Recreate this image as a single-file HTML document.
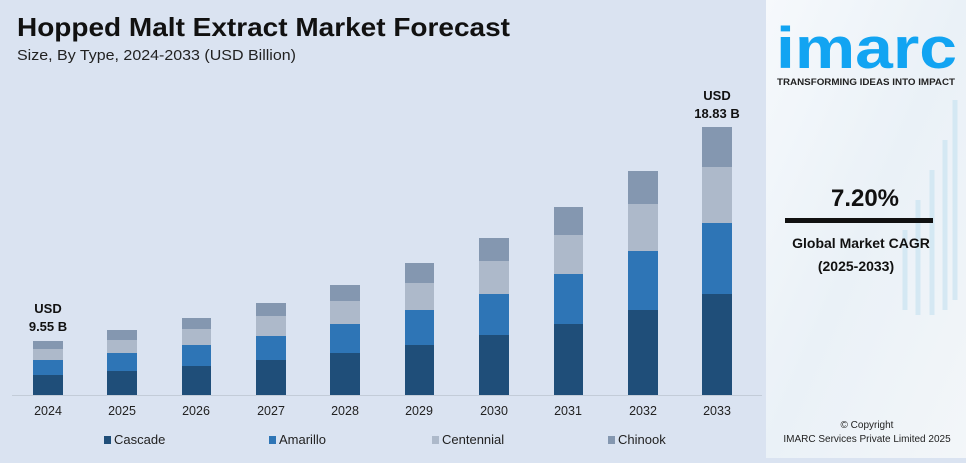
<!DOCTYPE html>
<html><head><meta charset="utf-8"><style>
html,body{margin:0;padding:0;}
body{width:966px;height:458px;overflow:hidden;background:#dae3f1;font-family:"Liberation Sans",sans-serif;}
</style></head><body>
<svg width="966" height="458" viewBox="0 0 966 458" xmlns="http://www.w3.org/2000/svg" font-family="Liberation Sans, sans-serif">
<defs>
<linearGradient id="rp" x1="0" y1="0" x2="1" y2="1">
<stop offset="0" stop-color="#f6f9fc"/><stop offset="0.5" stop-color="#eaf1f7"/><stop offset="1" stop-color="#f3f6f9"/>
</linearGradient>
</defs>
<rect x="0" y="0" width="766" height="458" fill="#dae3f1"/>
<rect x="766" y="0" width="200" height="458" fill="url(#rp)"/>
<g stroke="#cfe6f3" stroke-width="5" opacity="0.8">
<line x1="955" y1="100" x2="955" y2="300"/><line x1="945" y1="140" x2="945" y2="310"/>
<line x1="932" y1="170" x2="932" y2="315"/><line x1="918" y1="200" x2="918" y2="315"/>
<line x1="905" y1="230" x2="905" y2="310"/>
</g>
<text x="17" y="36" font-size="26" font-weight="bold" fill="#111" textLength="493" lengthAdjust="spacingAndGlyphs">Hopped Malt Extract Market Forecast</text>
<text x="17" y="60" font-size="15" fill="#222" textLength="279" lengthAdjust="spacingAndGlyphs">Size, By Type, 2024-2033 (USD Billion)</text>
<line x1="12" y1="395.5" x2="762" y2="395.5" stroke="#c3ccd8" stroke-width="1"/>
<g id="bars">
<rect x="33" y="341" width="30" height="8" fill="#8497b0"/><rect x="33" y="349" width="30" height="11" fill="#adb9ca"/><rect x="33" y="360" width="30" height="15" fill="#2e75b6"/><rect x="33" y="375" width="30" height="20" fill="#1f4e79"/>
<rect x="107" y="330" width="30" height="10" fill="#8497b0"/><rect x="107" y="340" width="30" height="13" fill="#adb9ca"/><rect x="107" y="353" width="30" height="18" fill="#2e75b6"/><rect x="107" y="371" width="30" height="24" fill="#1f4e79"/>
<rect x="182" y="318" width="29" height="11" fill="#8497b0"/><rect x="182" y="329" width="29" height="16" fill="#adb9ca"/><rect x="182" y="345" width="29" height="21" fill="#2e75b6"/><rect x="182" y="366" width="29" height="29" fill="#1f4e79"/>
<rect x="256" y="303" width="30" height="13" fill="#8497b0"/><rect x="256" y="316" width="30" height="20" fill="#adb9ca"/><rect x="256" y="336" width="30" height="24" fill="#2e75b6"/><rect x="256" y="360" width="30" height="35" fill="#1f4e79"/>
<rect x="330" y="285" width="30" height="16" fill="#8497b0"/><rect x="330" y="301" width="30" height="23" fill="#adb9ca"/><rect x="330" y="324" width="30" height="29" fill="#2e75b6"/><rect x="330" y="353" width="30" height="42" fill="#1f4e79"/>
<rect x="405" y="263" width="29" height="20" fill="#8497b0"/><rect x="405" y="283" width="29" height="27" fill="#adb9ca"/><rect x="405" y="310" width="29" height="35" fill="#2e75b6"/><rect x="405" y="345" width="29" height="50" fill="#1f4e79"/>
<rect x="479" y="238" width="30" height="23" fill="#8497b0"/><rect x="479" y="261" width="30" height="33" fill="#adb9ca"/><rect x="479" y="294" width="30" height="41" fill="#2e75b6"/><rect x="479" y="335" width="30" height="60" fill="#1f4e79"/>
<rect x="554" y="207" width="29" height="28" fill="#8497b0"/><rect x="554" y="235" width="29" height="39" fill="#adb9ca"/><rect x="554" y="274" width="29" height="50" fill="#2e75b6"/><rect x="554" y="324" width="29" height="71" fill="#1f4e79"/>
<rect x="628" y="171" width="30" height="33" fill="#8497b0"/><rect x="628" y="204" width="30" height="47" fill="#adb9ca"/><rect x="628" y="251" width="30" height="59" fill="#2e75b6"/><rect x="628" y="310" width="30" height="85" fill="#1f4e79"/>
<rect x="702" y="127" width="30" height="40" fill="#8497b0"/><rect x="702" y="167" width="30" height="56" fill="#adb9ca"/><rect x="702" y="223" width="30" height="71" fill="#2e75b6"/><rect x="702" y="294" width="30" height="101" fill="#1f4e79"/>
</g>
<g font-size="13" font-weight="bold" fill="#111" text-anchor="middle">
<text x="48" y="313">USD</text><text x="48" y="331">9.55 B</text>
<text x="717" y="100">USD</text><text x="717" y="118">18.83 B</text>
</g>
<g font-size="12.5" fill="#222" text-anchor="middle">
<text x="48" y="415">2024</text><text x="122" y="415">2025</text><text x="196" y="415">2026</text><text x="271" y="415">2027</text><text x="345" y="415">2028</text>
<text x="419" y="415">2029</text><text x="494" y="415">2030</text><text x="568" y="415">2031</text><text x="643" y="415">2032</text><text x="717" y="415">2033</text>
</g>
<g font-size="13" fill="#222">
<rect x="104" y="436" width="7" height="8" fill="#1f4e79"/><text x="114" y="444">Cascade</text>
<rect x="269" y="436" width="7" height="8" fill="#2e75b6"/><text x="279" y="444">Amarillo</text>
<rect x="432" y="436" width="7" height="8" fill="#adb9ca"/><text x="442" y="444">Centennial</text>
<rect x="608" y="436" width="7" height="8" fill="#8497b0"/><text x="618" y="444">Chinook</text>
</g>
<text x="776" y="68" font-size="58" font-weight="bold" fill="#12a4f2" textLength="181" lengthAdjust="spacingAndGlyphs">imarc</text>
<text x="866" y="85" font-size="9.6" font-weight="bold" fill="#222" text-anchor="middle" textLength="178" lengthAdjust="spacingAndGlyphs">TRANSFORMING IDEAS INTO IMPACT</text>
<text x="865" y="206" font-size="24" font-weight="bold" fill="#111" text-anchor="middle">7.20%</text>
<rect x="785" y="218" width="148" height="5" fill="#111"/>
<text x="861" y="248" font-size="14" font-weight="bold" fill="#111" text-anchor="middle">Global Market CAGR</text>
<text x="856" y="271" font-size="14" font-weight="bold" fill="#111" text-anchor="middle">(2025-2033)</text>
<text x="867" y="428" font-size="10" fill="#222" text-anchor="middle">© Copyright</text>
<text x="867" y="442" font-size="10" fill="#222" text-anchor="middle">IMARC Services Private Limited 2025</text>
</svg>
</body></html>
